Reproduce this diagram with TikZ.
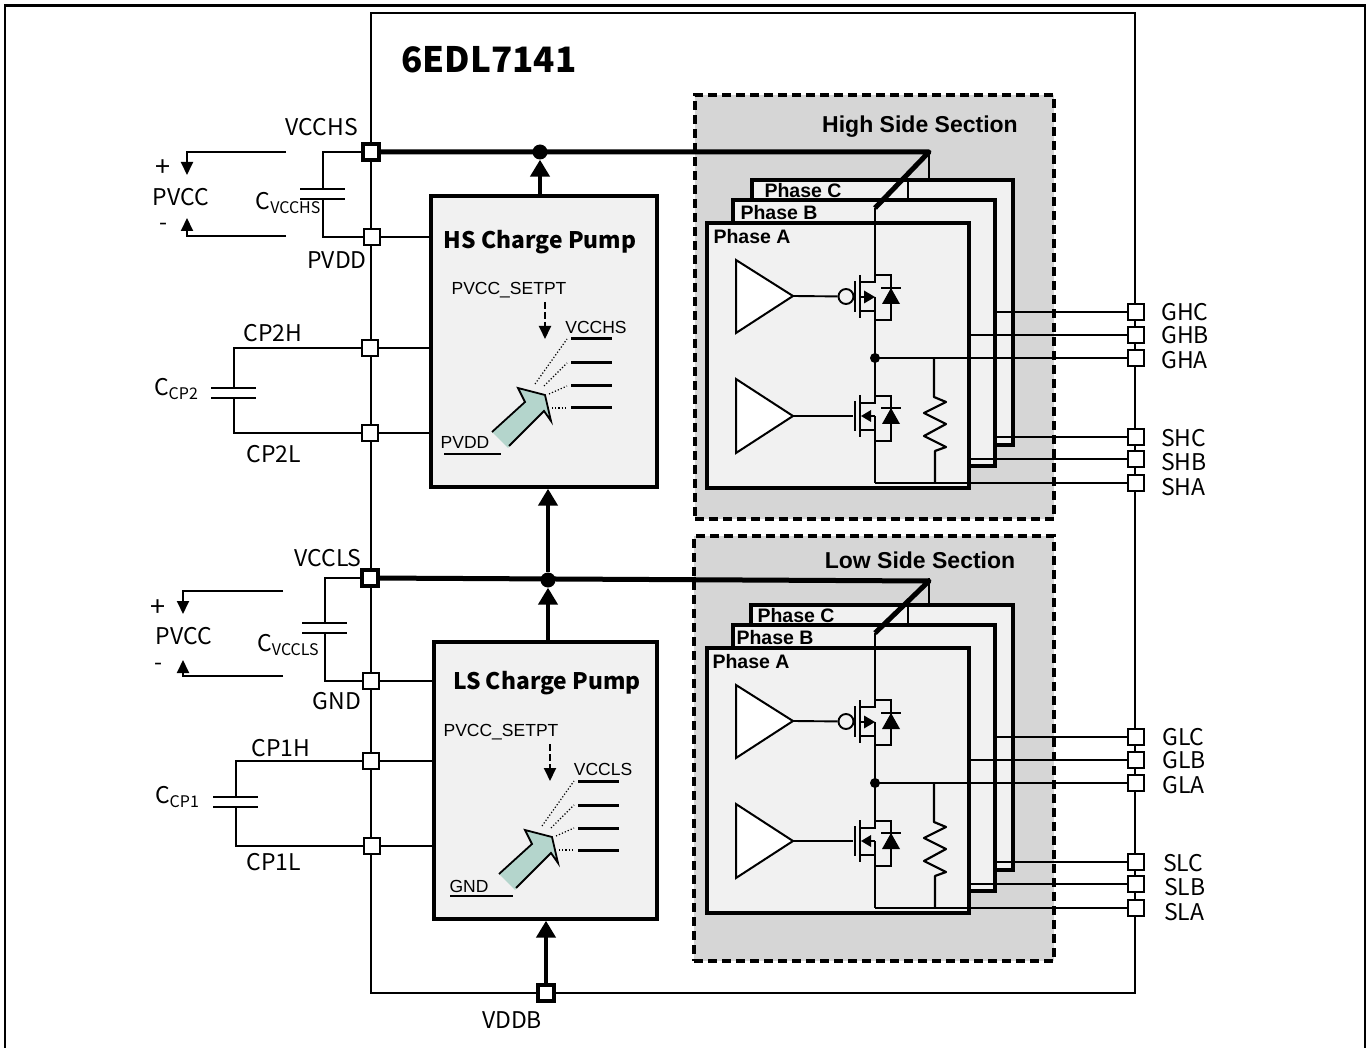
\documentclass[tikz,border=0pt]{standalone}
\usepackage{xcolor}
\usepackage{fontspec}
\setmainfont{Noto Sans CJK SC}
\newfontfamily\arialfont{Liberation Sans}
\usetikzlibrary{positioning, arrows.meta, calc}
\definecolor{sectiongray}{HTML}{D6D6D6}
\definecolor{boxgray}{HTML}{F1F1F1}
\definecolor{pumpgreen}{HTML}{B4D5CC}

\begin{document}
\begin{tikzpicture}[
      x=1pt, y=-1pt,
      pinbox/.style={
        draw,
        fill=white,
        line width=1.8pt,
        minimum size=16.5pt,
        inner sep=0pt
      },
      pinthick/.style={
        pinbox,
        line width=3.6pt,
        minimum size=16pt
      },
      pumpbox/.style={
        draw,
        fill=boxgray,
        line width=3.4pt,
        inner sep=0pt
      },
      phasebox/.style={
        draw,
        fill=boxgray,
        line width=3.2pt,
        inner sep=0pt
      },
      sectionbox/.style={
        draw,
        fill=sectiongray,
        line width=3.4pt,
        dash pattern=on 9pt off 5pt,
        inner sep=0pt
      },
      wire/.style={line width=1.9pt},
      bus/.style={line width=5pt, line join=round},
      arrow/.style={
        -{Triangle[length=17pt,width=19pt]},
        line width=4.6pt
      },
      smallarrow/.style={
        -{Triangle[length=13pt,width=12pt]},
        line width=1.9pt
      },
      dot/.style={circle, fill, inner sep=0pt, minimum size=#1},
      lab/.style={font=\fontsize{23}{25}\selectfont, inner sep=0pt},
      arlab/.style={font=\arialfont\fontsize{17.5}{20}\selectfont, inner sep=0pt},
      phaselab/.style={font=\arialfont\bfseries\fontsize{19.5}{22}\selectfont, inner sep=0pt},
      seclab/.style={font=\arialfont\bfseries\fontsize{23}{25}\selectfont, inner sep=0pt},
      pumplab/.style={font=\bfseries\fontsize{22.8}{25}\selectfont, inner sep=0pt}
    ]

    \useasboundingbox (0,0) rectangle (1371,1048);

    % outer frame, open at the bottom
    \draw[line width=2.2pt] (5,1048) -- (5,5.5) -- (1365,5.5) -- (1365,1048);

    % chip outline
    \node[draw, line width=2.6pt, minimum width=764pt, minimum height=980pt, inner sep=0pt] (chip) at (753,503) {};
    \node[font=\bfseries\fontsize{35}{37}\selectfont, inner sep=0pt] (title) at (489,60) {6EDL7141};

    % sections with their three phases
    \foreach \sd/\secname/\dy/\secx/\secy/\secw/\sech/\laby/\ax/\ay/\bx/\by/\cx/\cy/\cleft in {
        H/High/0/874.5/307/359/424/127/752/237/779/213/803/191/752,
        L/Low/425/874/323.5/360/425/135/751/237/775/213/796/191/751} {
      \begin{scope}[shift={(0,\dy)}]
        \node[sectionbox, minimum width=\secw pt, minimum height=\sech pt] (sec\sd) at (\secx,\secy) {};
        \node[seclab] (seclab\sd) at (920,\laby) {\secname\ Side Section};

        \coordinate (top\sd) at (929,153);
        \draw[wire] (top\sd) -- (929,180);

        \node[phasebox, minimum width=\the\numexpr1013-\cleft\relax pt, minimum height=265pt] (phaseC\sd) at (\cleft/2+506.5,312.5) {};
        \draw[wire] (908,180) -- (908,200);
        \node[phasebox, minimum width=262pt, minimum height=266pt] (phaseB\sd) at (864,333) {};
        \node[phasebox, minimum width=262pt, minimum height=265pt] (phaseA\sd) at (838,355.5) {};
        \node[phaselab] (labC\sd) at (\cx,\cy) {Phase C};
        \node[phaselab] (labB\sd) at (\bx,\by) {Phase B};
        \node[phaselab] (labA\sd) at (\ax,\ay) {Phase A};

        % drivers
        \coordinate (drvH\sd) at (793,296);
        \coordinate (drvL\sd) at (793,416);
        \draw[line width=2pt, fill=white] (736,260) -- (736,333) -- (drvH\sd) -- cycle;
        \draw[line width=2pt, fill=white] (736,379) -- (736,453) -- (drvL\sd) -- cycle;

        % high side fet
        \node[draw, circle, line width=1.9pt, minimum size=15pt, inner sep=0pt] (bub\sd) at (846,296.5) {};
        \draw[wire] (drvH\sd) -- (bub\sd);
        \draw[wire] (855,281) -- (855,312);
        \draw[line width=2.2pt] (860,275) -- (860,318);
        \coordinate (mid\sd) at (875,358);
        \coordinate (tap\sd) at (875,208);
        \draw[wire] (tap\sd) -- (875,282) -- (860,282);
        \draw[wire] (860,311) -- (875,311) -- (mid\sd);
        \draw[wire] (875,297) -- (875,311);
        \draw[wire] (860,297) -- (865,297);
        \fill (875,297) -- (864,290.5) -- (864,303.5) -- cycle;
        \draw[wire] (875,275) -- (891,275) -- (891,320) -- (875,320);
        \fill (882,304) -- (900,304) -- (891,288) -- cycle;
        \draw[wire] (881,288) -- (901,288);

        % low side fet
        \node[inner sep=0pt] (drvgate\sd) at (854,416) {};
        \draw[wire] (drvL\sd) -- (drvgate\sd);
        \draw[wire] (855,401) -- (855,431);
        \draw[line width=2.2pt] (860,395) -- (860,437);
        \coordinate (src\sd) at (875,483);
        \draw[wire] (mid\sd) -- (875,403) -- (860,403);
        \draw[wire] (860,430) -- (875,430) -- (src\sd);
        \draw[wire] (875,416) -- (875,430);
        \draw[wire] (868,416) -- (875,416);
        \fill (861,416) -- (871,410) -- (871,422) -- cycle;
        \draw[wire] (875,396) -- (891,396) -- (891,441) -- (875,441);
        \fill (882,424) -- (900,424) -- (891,408) -- cycle;
        \draw[wire] (881,408) -- (901,408);

        % resistor
        \draw[line width=2.2pt, line join=round] (934,358) -- (934,397) -- (946,402) -- (924,413) -- (946,424) -- (924,436) -- (946,447) -- (935,451) -- (935,483);

        \node[dot=10pt] (middot\sd) at (mid\sd) {};

        % right hand pins
        \foreach \pn/\py/\from in {GA/358/875, GB/335/969, GC/312/995, SA/483/875, SB/459/969, SC/437/995} {
          \node[pinbox] (pin\pn\sd) at (1136,\py) {};
          \coordinate (st\pn\sd) at (\from,\py);
          \draw[wire] (st\pn\sd) -- (pin\pn\sd);
        }
      \end{scope}
    }
    % pin names on the right
    \foreach \pn/\px/\py/\txt in {GCH/1161/312/GHC, GBH/1161/335/GHB, GAH/1161/360/GHA, SCH/1161/438/SHC, SBH/1161/462/SHB, SAH/1161/487/SHA,
                              GCL/1162/737/GLC, GBL/1162/760/GLB, GAL/1162/785/GLA, SCL/1163/863/SLC, SBL/1164/887/SLB, SAL/1164/912/SLA} {
      \node[lab, anchor=west] (name\pn) at (\px,\py) {\txt};
    }

    % charge pump boxes
    \node[pumpbox, minimum width=226pt, minimum height=291pt] (hspump) at (544,341.5) {};
    \node[pumpbox, minimum width=223pt, minimum height=277pt] (lspump) at (545.5,780.5) {};
    \node[pumplab] (hslab) at (540,242) {HS Charge Pump};
    \node[pumplab] (lslab) at (547,683) {LS Charge Pump};

    \foreach \sd/\dx/\dy/\low/\up/\lowx/\lowy/\lowa/\lowb/\setx/\arrx in {
        H/0/0/PVDD/VCCHS/465/442/444/501/509/545,
        L/7/442/GND/VCCLS/469/886/450/513/501/550} {
      \node[arlab] (setpt\sd) at (\setx,290+\dy) {PVCC\_SETPT};
      \coordinate (setfrom\sd) at (\arrx,302+\dy);
      \coordinate (setto\sd) at (\arrx,339+\dy);
      \draw[smallarrow, dash pattern=on 7pt off 3pt] (setfrom\sd) -- (setto\sd);
      \node[arlab] (uplab\sd) at (596+\dx,327+\dy) {\up};
      \foreach \ly/\fx/\fy in {339/535/384, 363/544/386, 386/549/394, 408/552/408} {
        \coordinate (lvl\ly\sd) at (571+\dx,\ly+\dy);
        \draw[line width=3pt] (lvl\ly\sd) -- ++(41,0);
        \draw[line width=1.2pt, dotted] (\fx+\dx,\fy+\dy) -- ($(lvl\ly\sd)+(-4,0)$);
      }
      \begin{scope}[shift={(\dx,\dy)}]
        \fill[pumpgreen] (492,432) -- (525,402) -- (518,388) -- (545,395) -- (551,421) -- (544,411) -- (508,448) -- cycle;
        \draw[line width=1.8pt, line join=miter] (492,432) -- (525,402) -- (518,388) -- (545,395) -- (551,421) -- (544,411) -- (509,446);
      \end{scope}
      \node[arlab] (lowlab\sd) at (\lowx,\lowy) {\low};
      \draw[line width=2.6pt] (\lowa,454+\dy) -- (\lowb,454+\dy);
    }

    % left hand pins
    \node[pinthick] (vcchs) at (371,152) {};
    \node[pinbox] (pvdd) at (372,237) {};
    \node[pinbox] (cp2h) at (370,348) {};
    \node[pinbox] (cp2l) at (370,433) {};
    \node[pinthick] (vccls) at (370,578) {};
    \node[pinbox] (gnd) at (371,681) {};
    \node[pinbox] (cp1h) at (371,761) {};
    \node[pinbox] (cp1l) at (372,846) {};
    \node[pinthick] (vddb) at (546,993) {};

    \node[lab] (vcchslab) at (322,127) {VCCHS};
    \node[lab] (pvddlab) at (337,260) {PVDD};
    \node[lab] (cp2hlab) at (273,333) {CP2H};
    \node[lab] (cp2llab) at (274,454) {CP2L};
    \node[lab] (vcclslab) at (328,558) {VCCLS};
    \node[lab] (gndlab) at (337,701) {GND};
    \node[lab] (cp1hlab) at (281,748) {CP1H};
    \node[lab] (cp1llab) at (274,862) {CP1L};
    \node[lab] (vddblab) at (512,1020) {VDDB};

    % pin to pump wires
    \draw[wire] (pvdd) -- (hspump.west |- pvdd);
    \draw[wire] (cp2h) -- (hspump.west |- cp2h);
    \draw[wire] (cp2l) -- (hspump.west |- cp2l);
    \draw[wire] (gnd) -- (lspump.west |- gnd);
    \draw[wire] (cp1h) -- (lspump.west |- cp1h);
    \draw[wire] (cp1l) -- (lspump.west |- cp1l);

    % supply rails
    \coordinate (railH) at (929,152);
    \coordinate (railL) at (929,581);
    \draw[bus] (vcchs) -- (railH) -- (tapH);
    \draw[bus] (vccls) -- (railL) -- (tapL);
    \node[dot=15pt] (hsdot) at (540,152) {};
    \node[dot=15pt] (lsdot) at (548,580) {};
    \draw[arrow] (hsdot |- hspump.north) -- (hsdot);
    \draw[arrow] (lsdot |- lspump.north) -- (lsdot);
    \draw[arrow] (lsdot) -- (lsdot |- hspump.south);
    \draw[arrow] (vddb) -- (vddb |- lspump.south);

    % external capacitors
    \foreach \nm/\capx/\capy/\aa/\bb/\lx/\ly/\txt/\sb in {
        vcchs/323/189/vcchs/pvdd/288/203/C/VCCHS,
        vccls/325/623/vccls/gnd/288/645/C/VCCLS,
        cptwo/234/388/cp2h/cp2l/176/389/C/CP2,
        cpone/236/797/cp1h/cp1l/177/797/C/CP1} {
      \coordinate (capa\nm) at (\capx,\capy);
      \coordinate (capb\nm) at (\capx,\capy+10);
      \draw[line width=2.4pt] ($(capa\nm)+(-23,0)$) -- ($(capa\nm)+(22,0)$);
      \draw[line width=2.4pt] ($(capb\nm)+(-23,0)$) -- ($(capb\nm)+(22,0)$);
      \draw[wire] (\aa) -| (capa\nm);
      \draw[wire] (\bb) -| (capb\nm);
      \node[lab] (caplab\nm) at (\lx,\ly) {\txt\raisebox{-0.15em}{\fontsize{16}{18}\selectfont\sb}};
    }

    % supply voltage markers
    \foreach \nm/\ax/\ay/\by/\ex/\tipa/\tipb/\px/\py/\plx/\ply/\mly in {
        H/187/152/236/286/175/218/181/197/163/168/227,
        L/183/591/676/283/614/660/184/636/158/608/667} {
      \coordinate (plusend\nm) at (\ex,\ay);
      \coordinate (minusend\nm) at (\ex,\by);
      \coordinate (plustip\nm) at (\ax,\tipa);
      \coordinate (minustip\nm) at (\ax,\tipb);
      \draw[smallarrow] (plusend\nm) -| (plustip\nm);
      \draw[smallarrow] (minusend\nm) -| (minustip\nm);
      \node[lab] (pvcc\nm) at (\px,\py) {PVCC};
      \node[lab, font=\fontsize{27}{29}\selectfont] (plus\nm) at (\plx,\ply) {+};
      \node[lab] (minus\nm) at (\plx,\mly) {-};
    }

    \end{tikzpicture}
\end{document}
